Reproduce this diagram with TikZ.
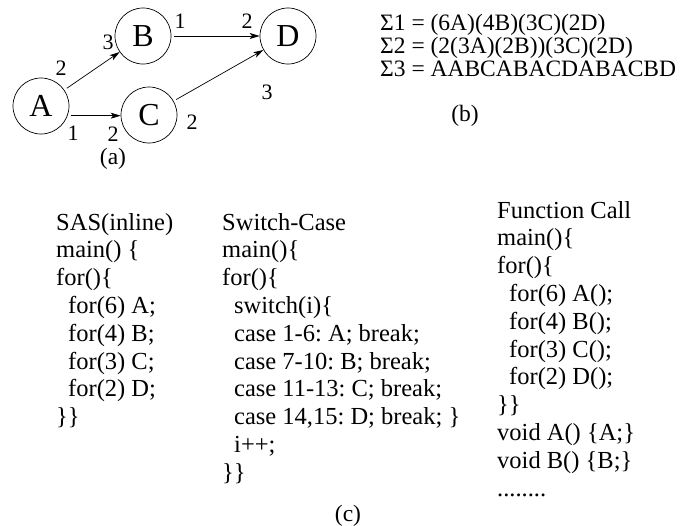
\documentclass[tikz,border=0pt]{standalone}
\usepackage{fontspec}
\setmainfont{Liberation Serif}
\usetikzlibrary{arrows.meta}
\newcommand\dotrow{........}
\frenchspacing
\begin{document}
\begin{tikzpicture}[x=1pt,y=-1pt,
  vertex/.style={draw, circle, line width=0.7pt, minimum size=56pt, inner sep=0pt,
    font=\fontsize{32}{32}\selectfont},
  edge/.style={line width=0.7pt, -{Stealth[length=10pt,width=6pt,inset=2.5pt]},
    shorten <=3pt},
  rate/.style={inner sep=0pt, font=\fontsize{22}{22}\selectfont},
  code/.style={anchor=base west, inner sep=0pt, font=\fontsize{24.5}{26}\selectfont},
  schedule/.style={anchor=base west, inner sep=0pt, font=\fontsize{23.5}{24}\selectfont},
  caption/.style={anchor=base, inner sep=0pt, font=\fontsize{23.5}{24}\selectfont}]
\useasboundingbox (0,0) rectangle (688,525);

% (a) the graph
\node[vertex] (A) at (41,106) {A};
\node[vertex] (B) at (143,36) {B};
\node[vertex] (C) at (149,115) {C};
\node[vertex] (D) at (288,36) {D};

\draw[edge] (A) -- (B);
\draw[edge] (A.-20) -- (A.-20 -| C.west);
\draw[edge] (B) -- (D);
\draw[edge] (C) -- (D);

\node[rate] (rAB1) at (61,68) {2};
\node[rate] (rAB2) at (108,42) {3};
\node[rate] (rAC1) at (73,133) {1};
\node[rate] (rAC2) at (113,134) {2};
\node[rate] (rBD1) at (180,21) {1};
\node[rate] (rBD2) at (247,21) {2};
\node[rate] (rCD1) at (192,122) {2};
\node[rate] (rCD2) at (267,92) {3};
\node[caption] (capa) at (113,164) {(a)};

% (b) the schedules
\node[schedule] (s1) at (380,30) {Σ1 = (6A)(4B)(3C)(2D)};
\node[schedule] (s2) at (380,53) {Σ2 = (2(3A)(2B))(3C)(2D)};
\node[schedule] (s3) at (380,76) {Σ3 = AABCABACDABACBD};
\node[caption] (capb) at (465,121) {(b)};

% (c) the three code styles
\foreach \t [count=\i from 0] in {
  {SAS(inline)}, {main() \{}, {for()\{},
  {\hspace*{12pt}for(6) A;}, {\hspace*{12pt}for(4) B;},
  {\hspace*{12pt}for(3) C;}, {\hspace*{12pt}for(2) D;}, {\}\}}}
  \node[code] (sas\i) at (56,{230+27.8*\i}) {\t};

\foreach \t [count=\i from 0] in {
  {Switch-Case}, {main()\{}, {for()\{},
  {\hspace*{12pt}switch(i)\{},
  {\hspace*{12pt}case 1-6: A; break;},
  {\hspace*{12pt}case 7-10: B; break;},
  {\hspace*{12pt}case 11-13: C; break;},
  {\hspace*{12pt}case 14,15: D; break; \}},
  {\hspace*{12pt}i++;}, {\}\}}}
  \node[code] (sw\i) at (222,{230+27.8*\i}) {\t};

\foreach \t [count=\i from 0] in {
  {Function Call}, {main()\{}, {for()\{},
  {\hspace*{12pt}for(6) A();}, {\hspace*{12pt}for(4) B();},
  {\hspace*{12pt}for(3) C();}, {\hspace*{12pt}for(2) D();},
  {\}\}}, {void A() \{A;\}}, {void B() \{B;\}}, {\dotrow}}
  \node[code] (fc\i) at (497,{218+27.8*\i}) {\t};

\node[caption] (capc) at (348,521) {(c)};
\end{tikzpicture}
\end{document}
